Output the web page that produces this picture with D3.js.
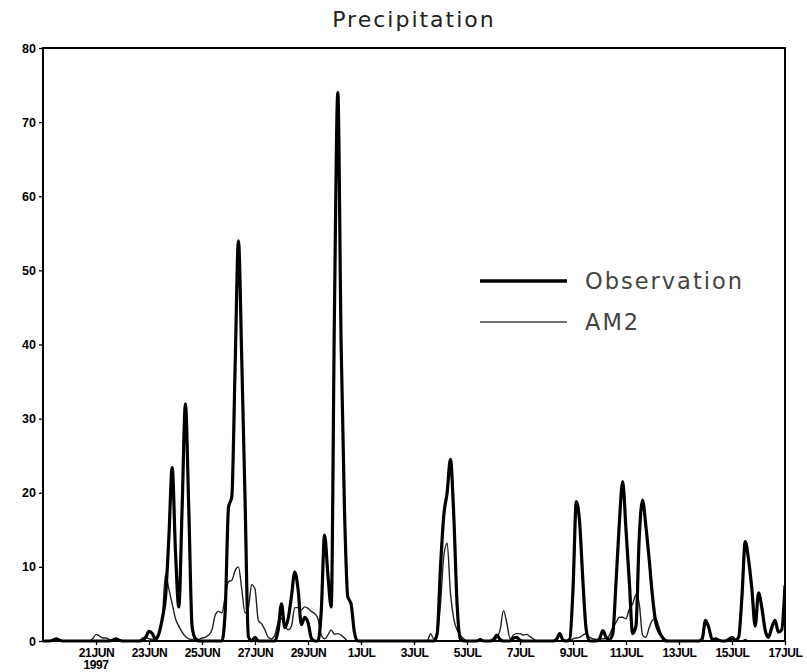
<!DOCTYPE html>
<html>
<head>
<meta charset="utf-8">
<script src="https://cdn.jsdelivr.net/npm/d3@7"></script>
<style>
  html, body { margin: 0; padding: 0; background: #fff; }
  svg { display: block; }
</style>
</head>
<body>
<svg id="chart" width="807" height="672"></svg>
<script>
// ---- Data (3-hourly, starting 19 JUN 1997 00Z) ----
const startDate = Date.UTC(1997, 5, 19);
const stepHours = 3;

const observation = [
  0,0,0,0.1,0.3,0.1,0,0,
  0,0,0,0,0,0,0,0,
  0,0,0,0,0,0.1,0.3,0.1,
  0,0,0,0,0,0,0.1,0.5,
  1.3,1.0,0.2,1.0,3,6,14,23.4,
  12,4.6,18,32,18,2,0.3,0,
  0,0,0,0,0,0,0,4,
  18,19.5,37,54,38,19,0.6,0,
  0.5,0,0,0,0,0,0,1.5,
  5,1.8,3,6,9.3,7,2.2,3.2,
  2.5,0.4,0,0,4,14.3,9,4.6,
  45,74,40,18,6,5,1.2,0,
  0,0,0,0,0,0,0,0,
  0,0,0,0,0,0,0,0,
  0,0,0,0,0,0,0,1,
  10,17,20,24.5,17,5,0.3,0,
  0,0,0,0,0.2,0,0,0,
  0.2,0.8,0.2,0,0,0,0.4,0.5,
  0.1,0,0,0,0,0,0,0,
  0,0,0,0.2,1.0,0.1,0,0.2,
  7,18.8,16,8,1.5,0,0,0,
  0.3,1.4,0.5,0.2,1,8,16,21.5,
  15,8,1,2,14,19,15.5,11,
  6,2.5,1.2,0.5,0,0,0,0,
  0,0,0,0,0,0,0,0.3,
  2.8,1.8,0.2,0.3,0.1,0,0,0.2,
  0.5,0.1,0.5,6,13.4,11,7,2,
  6.5,4.5,1.5,0.5,1.8,2.8,1.2,1.5,
  7.5
];

const am2 = [
  0,0,0,0,0,0,0,0,
  0,0,0,0,0,0,0,0.3,
  0.9,0.7,0.4,0.4,0.2,0,0,0,
  0,0,0,0,0,0,0.4,0.5,
  0.3,0.2,0.5,1,3,9,7,5,
  3,2,1.2,0.6,0.3,0.2,0.4,0.2,
  0.4,0.5,0.8,1.5,3.5,4,3.8,6,
  8,8.2,9.5,10,7,3.8,4.5,7.6,
  7,2.8,2.3,1.5,0.5,0.3,0.8,2.5,
  3,2.2,1.5,2,4.5,4.5,4.2,4.6,
  4.4,4,3.7,3,0.8,0.3,0.8,1.5,
  0.9,1.0,0.8,0.4,0,0,0,0,
  0,0,0,0,0,0,0,0,
  0,0,0,0,0,0,0,0,
  0,0,0,0,0,1.0,0.3,1,
  5,11.5,13.2,6.5,3,1.5,0.8,0.3,
  0,0,0,0,0,0,0,0,
  0,0.5,1.5,4.1,2.5,0.3,0.8,1.0,
  1.0,0.8,0.9,0.6,0.3,0,0,0,
  0,0,0,0,0,0,0,0,
  0.3,0.4,0.5,0.8,1.0,0.5,0.3,0.2,
  0.2,0.3,0.3,0.8,1.8,2.5,3.2,3.2,
  3.0,4.3,5,6.2,5,0.8,0.5,1.8,
  2.8,3.0,1.8,0.5,0.2,0,0,0,
  0,0,0,0,0,0,0,0,
  0,0,0,0,0,0,0,0,
  0.2,0,0,0,0.2,0,0,0,
  0,0,0,0,0,0,0,0,
  0
];

const xTickDates = [
  "1997-06-21","1997-06-23","1997-06-25","1997-06-27","1997-06-29",
  "1997-07-01","1997-07-03","1997-07-05","1997-07-07","1997-07-09",
  "1997-07-11","1997-07-13","1997-07-15","1997-07-17"
];
const xTickLabels = ["21JUN","23JUN","25JUN","27JUN","29JUN","1JUL","3JUL",
  "5JUL","7JUL","9JUL","11JUL","13JUL","15JUL","17JUL"];
const yTicks = [0,10,20,30,40,50,60,70,80];
const seriesNames = ["Observation", "AM2"];
const titleText = "Precipitation";
const yearLabel = "1997";

// ---- Layout ----
const mLeft = 43, mRight = 785, mTop = 48, mBottom = 641;
const svg = d3.select("#chart");

const x = d3.scaleUtc()
  .domain([new Date(startDate), new Date(Date.UTC(1997, 6, 17))])
  .range([mLeft, mRight]);
const y = d3.scaleLinear().domain([0, 80]).range([mBottom, mTop]);

const toPoints = arr => arr.map((v, i) => ({ t: new Date(startDate + i * stepHours * 3600e3), v }));

// clip
svg.append("defs").append("clipPath").attr("id", "plotclip")
  .append("rect").attr("x", mLeft).attr("y", mTop - 2)
  .attr("width", mRight - mLeft).attr("height", mBottom - mTop + 4);

const line = d3.line()
  .x(d => x(d.t)).y(d => y(d.v))
  .curve(d3.curveMonotoneX);

const g = svg.append("g").attr("clip-path", "url(#plotclip)");
g.append("path").datum(toPoints(am2))
  .attr("d", line).attr("fill", "none")
  .attr("stroke", "#222").attr("stroke-width", 1.4)
  .attr("stroke-linejoin", "round");
g.append("path").datum(toPoints(observation))
  .attr("d", line).attr("fill", "none")
  .attr("stroke", "#000").attr("stroke-width", 3.2)
  .attr("stroke-linejoin", "round");

// frame
svg.append("rect").attr("x", mLeft).attr("y", mTop)
  .attr("width", mRight - mLeft).attr("height", mBottom - mTop)
  .attr("fill", "none").attr("stroke", "#000").attr("stroke-width", 2);

// axes
const tickDates = xTickDates.map(s => new Date(s + "T00:00:00Z"));
const xAxis = d3.axisBottom(x)
  .tickValues(tickDates)
  .tickSize(4).tickPadding(3)
  .tickFormat((d, i) => xTickLabels[i]);
const xg = svg.append("g").attr("transform", `translate(0,${mBottom})`).call(xAxis);
xg.select(".domain").remove();
xg.selectAll("line").attr("stroke", "#000").attr("stroke-width", 1.3);
xg.selectAll("text")
  .attr("font-family", "'Liberation Sans', Arial, sans-serif")
  .attr("font-weight", "bold").attr("font-size", 12)
  .attr("letter-spacing", "-0.4px")
  .attr("fill", "#000");

svg.append("text")
  .attr("x", x(tickDates[0])).attr("y", 669)
  .attr("text-anchor", "middle")
  .attr("font-family", "'Liberation Sans', Arial, sans-serif")
  .attr("font-weight", "bold").attr("font-size", 12)
  .attr("letter-spacing", "-0.4px")
  .text(yearLabel);

const yAxis = d3.axisLeft(y).tickValues(yTicks).tickSize(4).tickPadding(3);
const yg = svg.append("g").attr("transform", `translate(${mLeft},0)`).call(yAxis);
yg.select(".domain").remove();
yg.selectAll("line").attr("stroke", "#000").attr("stroke-width", 1.3);
yg.selectAll("text")
  .attr("font-family", "'Liberation Sans', Arial, sans-serif")
  .attr("font-weight", "bold").attr("font-size", 12.5)
  .attr("fill", "#000");

// title
svg.append("text")
  .attr("x", (mLeft + mRight) / 2).attr("y", 27)
  .attr("text-anchor", "middle")
  .attr("font-family", "'DejaVu Sans', sans-serif")
  .attr("font-size", 22).attr("letter-spacing", "2px")
  .attr("fill", "#222")
  .text(titleText);

// legend
const legendItems = [
  { name: seriesNames[0], y: 281, w: 3.5, c: "#000" },
  { name: seriesNames[1], y: 322, w: 1.4, c: "#444" }
];
const lg = svg.append("g");
legendItems.forEach(it => {
  lg.append("line").attr("x1", 480).attr("x2", 567)
    .attr("y1", it.y).attr("y2", it.y)
    .attr("stroke", it.c).attr("stroke-width", it.w);
  lg.append("text").attr("x", 585).attr("y", it.y + 8)
    .attr("font-family", "'DejaVu Sans', sans-serif")
    .attr("font-size", 22.5).attr("letter-spacing", "2px")
    .attr("fill", "#444")
    .text(it.name);
});
</script>
</body>
</html>
